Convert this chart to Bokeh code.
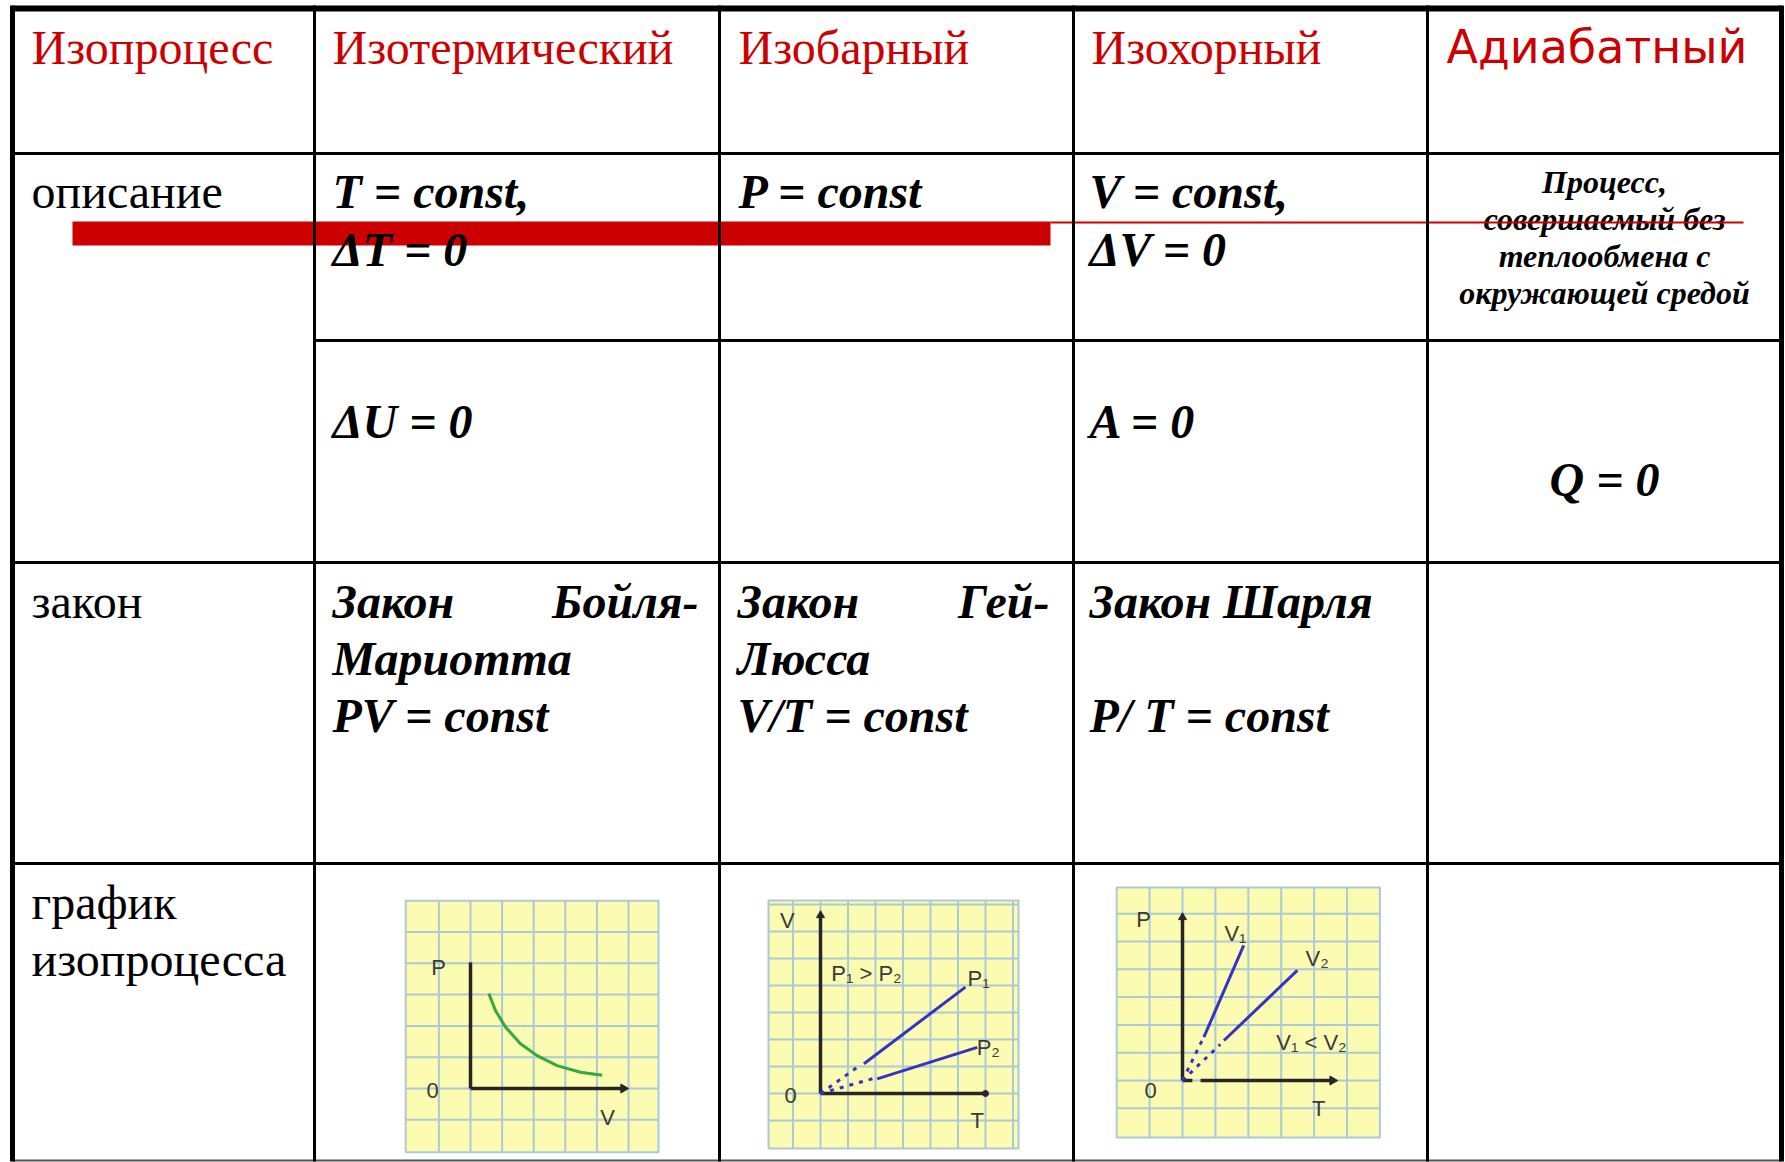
import math
from bokeh.plotting import figure
from bokeh.models import Range1d
from bokeh.core.properties import value
from bokeh.embed import file_html
from bokeh.resources import INLINE

# ---------------- content ----------------
header_serif = ["Изопроцесс", "Изотермический", "Изобарный", "Изохорный"]
header_sans = ["Адиабатный"]
row_names = ["описание", "закон", "график", "изопроцесса"]
desc_line1 = ["T = const,", "P = const", "V = const,"]
desc_line2 = ["ΔT = 0", "ΔV = 0"]
energy_line = ["ΔU = 0", "A = 0"]
adiabatic_desc = ["Процесс,", "совершаемый без", "теплообмена с", "окружающей средой"]
adiabatic_q = ["Q = 0"]
law_left = ["Закон", "Закон", "Закон Шарля"]
law_right = ["Бойля-", "Гей-"]
law_line2 = ["Мариотта", "Люсса"]
law_formula = ["PV = const", "V/T = const", "P/ T = const"]

# mini graph 1: isotherm (grid units, origin at axes corner)
g1_box_u = [-2.05, 5.95]
g1_box_v = [-2.04, 6.0]
g1_grid_u = [-1, 0, 1, 2, 3, 4, 5]
g1_grid_v = [-1, 0, 1, 2, 3, 4, 5]
g1_axis_top = [4.03]
g1_axis_right = [4.84]
g1_curve_u = [0.58, 0.79, 1.11, 1.58, 2.11, 2.74, 3.48, 4.17]
g1_curve_v = [3.03, 2.49, 1.96, 1.43, 1.05, 0.73, 0.52, 0.42]
g1_labels = ["P", "0", "V"]
g1_label_u = [-1.01, -1.2, 4.34]
g1_label_v = [3.87, -0.06, -0.93]

# mini graph 2: isobar
g2_box_u = [-1.89, 7.2]
g2_box_v = [-2.04, 7.15]
g2_grid_u = [-1, 0, 1, 2, 3, 4, 5, 6, 7]
g2_grid_v = [-1, 0, 1, 2, 3, 4, 5, 6, 7]
g2_axis_top = [6.6]
g2_axis_right = [6.0]
g2_p1_u = [1.58, 5.27]
g2_p1_v = [1.10, 3.94]
g2_p1_dot_u = [0.0, 1.45]
g2_p1_dot_v = [0.0, 1.05]
g2_p2_u = [2.06, 5.70]
g2_p2_v = [0.54, 1.71]
g2_p2_dot_u = [0.0, 1.90]
g2_p2_dot_v = [0.0, 0.55]
g2_labels = ["V", "0", "T", "P₁ > P₂", "P₁", "P₂"]
g2_label_u = [-1.21, -1.09, 5.7, 1.67, 5.75, 6.1]
g2_label_v = [6.4, -0.07, -1.0, 4.43, 4.25, 1.71]

# mini graph 3: isochore
g3_box_u = [-2.0, 6.0]
g3_box_v = [-2.05, 6.94]
g3_grid_u = [-1, 0, 1, 2, 3, 4, 5]
g3_grid_v = [-1, 0, 1, 2, 3, 4, 5, 6]
g3_axis_top = [5.87]
g3_axis_t = [0.55, 4.56]
g3_v1_u = [0.65, 1.86]
g3_v1_v = [1.56, 4.86]
g3_v1_dot_u = [0.0, 0.60]
g3_v1_dot_v = [0.0, 1.45]
g3_v2_u = [1.26, 3.49]
g3_v2_v = [1.44, 3.96]
g3_v2_dot_u = [0.0, 1.15]
g3_v2_dot_v = [0.0, 1.30]
g3_labels = ["P", "0", "T", "V₁", "V₂", "V₁ < V₂"]
g3_label_u = [-1.18, -0.97, 4.14, 1.61, 4.09, 3.92]
g3_label_v = [5.78, -0.36, -1.02, 5.28, 4.38, 1.38]

# ---------------- layout / styles ----------------
W, H = 1785, 1162
OX, OY = 0, 0
RED = "#cc0000"
SERIF = value("Liberation Serif")

p = figure(width=W, height=H, x_range=Range1d(OX, OX + W), y_range=Range1d(OY + H, OY),
           output_backend="svg", toolbar_location=None, min_border=0,
           x_axis_location=None, y_axis_location=None)
p.grid.visible = False
p.outline_line_color = None
p.background_fill_color = "white"
p.border_fill_color = "white"

# table lines
cols = [314, 719, 1073, 1427]
LEFT, RIGHT, TOP, BOTTOM = 12, 1781, 8, 1160
p.segment(x0=[LEFT, LEFT, 314, LEFT, LEFT], x1=[RIGHT] * 5,
          y0=[TOP, 153, 340, 562, 863], y1=[TOP, 153, 340, 562, 863],
          line_color="black", line_width=[6, 3, 3, 3, 3])
p.segment(x0=[LEFT], x1=[RIGHT], y0=[BOTTOM], y1=[BOTTOM], line_color="#555555", line_width=2)

# red highlight bar (under the text)
p.quad(left=[72], right=[1050], top=[221], bottom=[245], fill_color=RED, line_color=None)

# texts (baseline correction: bokeh's alphabetic anchor sits ~0.34em low)
def txt(xs, ys, texts, size, style="normal", color="black", font=SERIF, align="left", **kw):
    shift = 0.34 * size
    p.text(x=xs, y=[y - shift for y in ys], text=texts, text_font=font,
           text_font_size=f"{size}px", text_font_style=style, text_color=color,
           text_align=align, text_baseline="alphabetic", **kw)

txt([31, 332, 738, 1091], [63] * 4, header_serif, 48, color=RED)
txt([1446], [62], header_sans, 46, color=RED, font=value("DejaVu Sans"))
txt([31, 31, 31, 31], [207, 617, 918, 975], row_names, 48)
BI = "bold italic"
txt([332, 738, 1089], [207] * 3, desc_line1, 48, BI)
txt([332, 1089], [265, 265], desc_line2, 48, BI)
txt([332, 1089], [437, 437], energy_line, 48, BI)
txt([1604] * 4, [192, 229, 266, 303], adiabatic_desc, 32, BI, align="center")
txt([1604], [495], adiabatic_q, 48, BI, align="center")
txt([332, 737, 1089], [617] * 3, law_left, 48, BI)
txt([698, 1049], [617, 617], law_right, 48, BI, align="right")
txt([332, 737], [674, 674], law_line2, 48, BI)
txt([332, 737, 1089], [731] * 3, law_formula, 48, BI)

# thin red strike line (over the text)
p.segment(x0=[1050], x1=[1743], y0=[222], y1=[222], line_color=RED, line_width=2)

# mini graphs via extra ranges (grid units -> page)
def add_ranges(name, ox, oy, su, sv):
    p.extra_x_ranges[name + "x"] = Range1d((OX - ox) / su, (OX + W - ox) / su)
    p.extra_y_ranges[name + "y"] = Range1d((oy - OY - H) / sv, (oy - OY) / sv)
    return dict(x_range_name=name + "x", y_range_name=name + "y")

YEL = "#fbfbb2"
GRID = "#abcad4"
AX = "#262626"
LAB = "#3a3a3a"
BLUE = "#3434c4"
LABFONT = value("Liberation Sans")

def paper(r, bu, bv, gu, gv):
    p.quad(left=bu[0], right=bu[1], bottom=bv[0], top=bv[1], fill_color=YEL,
           line_color=GRID, line_width=2, **r)
    p.segment(x0=gu, x1=gu, y0=[bv[0]] * len(gu), y1=[bv[1]] * len(gu),
              line_color=GRID, line_width=2, **r)
    p.segment(x0=[bu[0]] * len(gv), x1=[bu[1]] * len(gv), y0=gv, y1=gv,
              line_color=GRID, line_width=2, **r)

def labels(r, u, v, t, size="22px"):
    p.text(x=u, y=v, text=t, text_font=LABFONT, text_font_size=size, text_color=LAB,
           text_align="center", text_baseline="middle", **r)

# graph 1
r1 = add_ranges("g1", 470, 1088, 31.6, 31.3)
paper(r1, g1_box_u, g1_box_v, g1_grid_u, g1_grid_v)
p.segment(x0=[0, 0], y0=[0, 0], x1=[0, g1_axis_right[0]], y1=[g1_axis_top[0], 0],
          line_color=AX, line_width=3.5, **r1)
p.scatter(x=g1_axis_right, y=[0], marker="triangle", size=9, angle=-math.pi / 2,
          fill_color=AX, line_color=AX, **r1)
p.line(x=g1_curve_u, y=g1_curve_v, line_color="#35a840", line_width=3, **r1)
labels(r1, g1_label_u, g1_label_v, g1_labels)

# graph 2
r2 = add_ranges("g2", 820, 1093, 27.5, 27.0)
paper(r2, g2_box_u, g2_box_v, g2_grid_u, g2_grid_v)
p.segment(x0=[0, 0], y0=[0, 0], x1=[0, g2_axis_right[0]], y1=[g2_axis_top[0], 0],
          line_color=AX, line_width=3.5, **r2)
p.scatter(x=[0], y=g2_axis_top, marker="triangle", size=8, fill_color=AX, line_color=AX, **r2)
p.scatter(x=g2_axis_right, y=[0], marker="circle", size=6, fill_color=AX, line_color=AX, **r2)
p.line(x=g2_p1_u, y=g2_p1_v, line_color=BLUE, line_width=3, **r2)
p.line(x=g2_p2_u, y=g2_p2_v, line_color=BLUE, line_width=3, **r2)
p.line(x=g2_p1_dot_u, y=g2_p1_dot_v, line_color=BLUE, line_width=3, line_dash="4 6", **r2)
p.line(x=g2_p2_dot_u, y=g2_p2_dot_v, line_color=BLUE, line_width=3, line_dash="4 6", **r2)
labels(r2, g2_label_u, g2_label_v, g2_labels)

# graph 3
r3 = add_ranges("g3", 1182, 1080, 32.9, 27.8)
paper(r3, g3_box_u, g3_box_v, g3_grid_u, g3_grid_v)
p.segment(x0=[0, g3_axis_t[0], 0], y0=[0, 0, 0], x1=[0, g3_axis_t[1], 0.3],
          y1=[g3_axis_top[0], 0, 0], line_color=AX, line_width=3.5, **r3)
p.scatter(x=[0], y=g3_axis_top, marker="triangle", size=8, fill_color=AX, line_color=AX, **r3)
p.scatter(x=[g3_axis_t[1]], y=[0], marker="triangle", size=9, angle=-math.pi / 2,
          fill_color=AX, line_color=AX, **r3)
p.line(x=g3_v1_u, y=g3_v1_v, line_color=BLUE, line_width=3, **r3)
p.line(x=g3_v2_u, y=g3_v2_v, line_color=BLUE, line_width=3, **r3)
p.line(x=g3_v1_dot_u, y=g3_v1_dot_v, line_color=BLUE, line_width=3, line_dash="4 6", **r3)
p.line(x=g3_v2_dot_u, y=g3_v2_dot_v, line_color=BLUE, line_width=3, line_dash="4 6", **r3)
labels(r3, g3_label_u, g3_label_v, g3_labels)

# vertical table lines (on top)
p.segment(x0=[LEFT] + cols + [RIGHT], x1=[LEFT] + cols + [RIGHT],
          y0=[TOP - 3] * 6, y1=[BOTTOM + 1] * 6, line_color="black",
          line_width=[5, 3, 3, 3, 3, 5])

open("out.html", "w").write(file_html(p, INLINE))
